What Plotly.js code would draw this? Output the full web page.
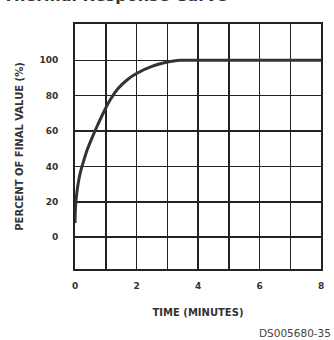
<!DOCTYPE html>
<html>
<head>
<meta charset="utf-8">
<script src="https://cdn.plot.ly/plotly-3.0.1.min.js"></script>
<style>html,body{margin:0;padding:0;background:#fff;}#chart{width:334px;height:340px;}</style>
</head>
<body>
<div id="chart"></div>
<script>
// Data
var timeMinutes = [0, 0.01, 0.04, 0.1, 0.18, 0.28, 0.4, 0.55, 0.7, 0.9, 1.14, 1.4, 1.7, 2.0, 2.5, 3.0, 3.4, 4, 8];
var percentFinal = [8, 15, 22, 30, 37, 43, 49.5, 56, 62, 69.5, 77.5, 84, 89, 92.5, 96.5, 99, 100, 100, 100];
var xTickVals = [0, 2, 4, 6, 8];
var xTickText = ["0", "2", "4", "6", "8"];
var yTickVals = [0, 20, 40, 60, 80, 100];
var yTickText = ["0", "20", "40", "60", "80", "100"];
var chartTitle = "Thermal Response Curve";
var xTitle = "TIME (MINUTES)";
var yTitle = "PERCENT OF FINAL VALUE (%)";
var figureCode = "DS005680-35";

var fam = "DejaVu Sans, Liberation Sans, sans-serif";
var tickFont = {family: fam, size: 9, color: "#333", weight: "bold"};
var titleFont = {family: fam, size: 10, color: "#333", weight: "bold"};

var trace = {
  x: timeMinutes,
  y: percentFinal,
  type: "scatter",
  mode: "lines",
  line: {color: "#333", width: 3, shape: "spline", smoothing: 0.6},
  hoverinfo: "skip"
};

var layout = {
  width: 334, height: 340,
  margin: {l: 75, r: 13, t: 24, b: 71},
  paper_bgcolor: "#fff",
  plot_bgcolor: "#fff",
  showlegend: false,
  xaxis: {
    range: [0, 8], tickvals: xTickVals, ticktext: xTickText,
    showgrid: true, gridcolor: "#222", gridwidth: 1.5,
    minor: {dtick: 1, showgrid: true, gridcolor: "#222", gridwidth: 1.5},
    zeroline: false, showline: true, mirror: true, linecolor: "#222", linewidth: 2,
    ticks: "", ticklabelstandoff: 7, tickfont: tickFont,
    title: {text: xTitle, font: titleFont, standoff: 19},
    fixedrange: true
  },
  yaxis: {
    range: [-18, 120.5], tickvals: yTickVals, ticktext: yTickText,
    showgrid: true, gridcolor: "#222", gridwidth: 1.5,
    zeroline: false, showline: true, mirror: true, linecolor: "#222", linewidth: 2,
    ticks: "", ticklabelstandoff: 13, tickfont: tickFont,
    title: {text: yTitle, font: titleFont, standoff: 14},
    fixedrange: true
  },
  annotations: [{
    text: chartTitle, xref: "paper", yref: "paper", x: -0.3, y: 1.115,
    xanchor: "left", yanchor: "middle", showarrow: false,
    font: {family: fam, size: 16, color: "#333", weight: "bold"}
  }, {
    text: figureCode, xref: "paper", yref: "paper", x: 1.049, y: -0.261,
    xanchor: "right", yanchor: "middle", showarrow: false,
    font: {family: fam, size: 10.5, color: "#444"}
  }]
};

Plotly.newPlot("chart", [trace], layout, {displayModeBar: false, staticPlot: true});
</script>
</body>
</html>
